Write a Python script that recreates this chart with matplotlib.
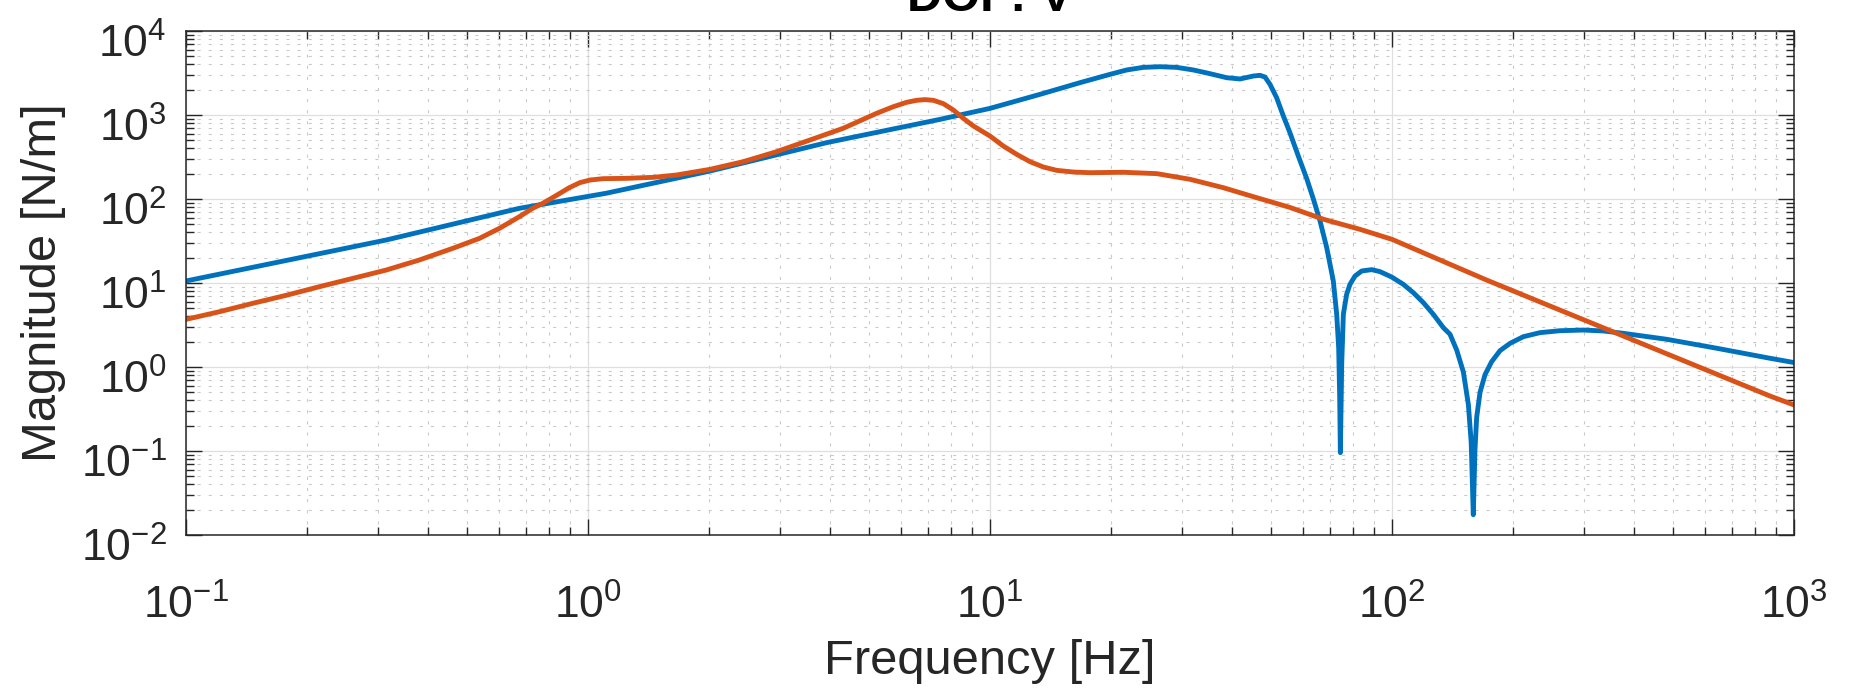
import matplotlib
matplotlib.use("Agg")
import matplotlib.pyplot as plt
from matplotlib.ticker import LogLocator, NullFormatter, LogFormatterSciNotation
from matplotlib.transforms import ScaledTranslation

plt.rcParams["font.family"] = ["Liberation Sans", "DejaVu Sans"]
plt.rcParams["mathtext.fontset"] = "custom"
plt.rcParams["mathtext.rm"] = "Liberation Sans"
plt.rcParams["axes.unicode_minus"] = False
plt.rcParams["lines.scale_dashes"] = False

# magnitude curves, DOF V  (frequency in Hz, magnitude in N/m)
freq_a = [0.1, 0.3148, 0.6745, 1.109, 2.009, 3.926, 7.51, 10.0, 13.32, 16.75,
          19.89, 21.88, 24.06, 26.48, 29.13, 32.05, 35.24, 38.80, 41.88, 45.19,
          46.95, 48.31, 49.72, 51.64, 53.67, 55.72, 58.48, 61.38, 63.73, 66.22,
          68.80, 71.45, 72.85, 73.68, 74.11, 74.40, 74.97, 75.68, 77.12, 78.61,
          80.91, 84.06, 89.01, 93.38, 99.82, 106.7, 113.0, 119.7, 126.7, 134.2,
          139.4, 144.9, 150.5, 154.9, 157.4, 159.3, 160.8, 162.4, 165.6, 170.4,
          177.0, 185.7, 196.7, 212.2, 233.4, 261.8, 299.2, 335.7, 375.8, 482.0,
          642.7, 871.0, 1000]
mag_a = [10.57, 32.5, 77.4, 117, 215, 469, 887, 1199, 1762, 2427,
         3048, 3436, 3690, 3758, 3690, 3436, 3105, 2780, 2685, 2911,
         2965, 2831, 2317, 1607, 973, 617, 324, 174, 100, 54.7,
         26.4, 10.57, 4.24, 1.70, 0.4315, 0.0955, 1.076, 4.24, 7.33, 9.64,
         12.11, 13.90, 14.42, 13.65, 11.78, 9.64, 7.67, 5.83, 4.24, 2.94,
         2.455, 1.585, 0.871, 0.355, 0.126, 0.0174, 0.1, 0.251, 0.501, 0.813,
         1.159, 1.567, 1.914, 2.296, 2.564, 2.704, 2.754, 2.685, 2.518, 2.138,
         1.671, 1.271, 1.130]

freq_b = [0.1, 0.1211, 0.1466, 0.1774, 0.2148, 0.2600, 0.3148, 0.3806, 0.4605,
          0.5370, 0.6017, 0.6749, 0.7284, 0.7713, 0.8325, 0.8987, 0.955, 1.012,
          1.091, 1.247, 1.454, 1.662, 2.011, 2.432, 2.944, 3.565, 4.315, 5.224,
          5.748, 6.204, 6.569, 6.891, 7.228, 7.655, 8.104, 8.582, 9.09, 10.0,
          10.79, 11.65, 12.58, 13.57, 14.65, 16.12, 17.73, 21.48, 26.0, 31.48,
          38.02, 46.03, 55.72, 67.45, 83.18, 100, 171.8, 362.2, 871, 1000]
mag_b = [3.69, 4.55, 5.73, 7.13, 9.04, 11.35, 14.26, 18.79, 25.82,
         33.96, 44.67, 61.52, 77.45, 88.72, 109.6, 136.5, 156.7, 168.3,
         174.6, 176.2, 181.1, 193.2, 225.4, 278.0, 365.6, 503.5, 695.0, 1047,
         1256, 1416, 1496, 1524, 1496, 1365, 1148, 912, 741, 562,
         427.6, 340.4, 278.0, 240.4, 219.3, 209.4, 205.6, 208.0, 200.4, 171.4,
         136.5, 103.8, 79.4, 57.5, 43.6, 33.1, 10.86, 2.518, 0.4519, 0.3532]

fig = plt.figure(figsize=(18.52, 6.92), dpi=100)
ax = fig.add_axes([186 / 1852, 1 - 535 / 692, 1608 / 1852, 504 / 692])

line_kw = dict(lw=3.5, solid_capstyle="round", solid_joinstyle="round")
ax.loglog(freq_a, mag_a, color="#0072BD", **line_kw)
ax.loglog(freq_b, mag_b, color="#D95319", **line_kw)

ax.set_xlim(0.1, 1000)
ax.set_ylim(1e-2, 1e4)

for axis in (ax.xaxis, ax.yaxis):
    axis.set_major_locator(LogLocator(base=10, numticks=20))
    axis.set_minor_locator(LogLocator(base=10, subs=range(2, 10), numticks=100))
    axis.set_minor_formatter(NullFormatter())
    axis.set_major_formatter(LogFormatterSciNotation())

ax.set_axisbelow(True)
ax.grid(True, which="major", color="#DFDFDF", lw=0.9, ls="-")
ax.grid(True, which="minor", color="#C9C9C9", lw=0.8, ls=(0, (2.2, 5.8)))

dark = "#262626"
for s in ax.spines.values():
    s.set_color(dark)
    s.set_linewidth(1.1)
ax.tick_params(which="both", direction="in", top=True, right=True, colors=dark,
               width=1.0, labelsize=32)
ax.tick_params(which="major", length=11.5)
ax.tick_params(which="minor", length=5.8)
ax.tick_params(axis="x", which="major", pad=36)
ax.tick_params(axis="y", which="major", pad=14)

# y labels sit with the baseline of "10" a little below the tick
shift = ScaledTranslation(0, -0.27, fig.dpi_scale_trans)
for lab in ax.get_yticklabels():
    lab.set_va("baseline")
    lab.set_transform(lab.get_transform() + shift)

fig.text(44 / 1852, 1 - 283 / 692, "Magnitude [N/m]", rotation=90, ha="center",
         va="center", fontsize=35.2, color=dark)
fig.text(990 / 1852, 1 - 674 / 692, "Frequency [Hz]", ha="center", va="baseline",
         fontsize=35.2, color=dark)
fig.text(990 / 1852, 1 - 11 / 692, "DOF: V", ha="center", va="baseline",
         fontsize=35.2, fontweight="bold", color="black")

fig.savefig("out.png", dpi=100)
